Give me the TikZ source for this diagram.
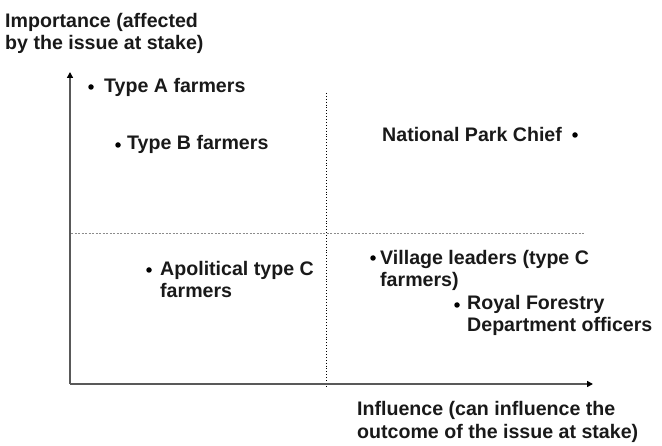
\documentclass[tikz,border=0pt]{standalone}
\usepackage{fontspec}
\setmainfont{Liberation Sans}
\usetikzlibrary{arrows.meta}
\begin{document}
\begin{tikzpicture}[x=1pt,y=1pt,
  lbl/.style={anchor=base west,inner sep=0pt,align=left,font=\bfseries\fontsize{19.6}{22.5}\selectfont,text=black!90},
  dot/.style={circle,fill=black,inner sep=0pt,minimum size=5.5pt},
  axis/.style={draw=black!65,line width=1.6pt,-{Triangle[length=6pt,width=6pt,color=black]}}]
\useasboundingbox (0,0) rectangle (662,445);
\coordinate (O) at (70,61);
\coordinate (ytip) at (70,373);
\coordinate (xtip) at (593,61);
\coordinate (vtop) at (326,352);
\coordinate (vbot) at (326,59);
\coordinate (hl) at (71,212);
\coordinate (hr) at (584,212);
\draw[black,line width=0.9pt,dotted] (vtop) -- (vbot);
\draw[black!45,line width=0.6pt,dash pattern=on 2pt off 1.5pt] (hl) -- (hr);
\draw[axis] (O) -- (ytip);
\draw[axis] (O) -- (xtip);
\node[lbl] (imp) at (5,395) {Importance (affected\\by the issue at stake)};
\node[lbl] (infl) at (357,7) {Influence (can influence the\\outcome of the issue at stake)};
\node[dot] (da) at (91,358) {};
\node[lbl] (ta) at (104,352) {Type A farmers};
\node[dot] (db) at (118,300) {};
\node[lbl] (tb) at (127,295) {Type B farmers};
\node[lbl] (tn) at (382,303) {National Park Chief};
\node[dot] (dn) at (575,310) {};
\node[dot] (dap) at (149,175) {};
\node[lbl] (tap) at (160,147) {Apolitical type C\\farmers};
\node[dot] (dv) at (373,187) {};
\node[lbl] (tv) at (380,158) {Village leaders (type C\\farmers)};
\node[dot] (dr) at (457,140) {};
\node[lbl] (tr) at (467,113) {Royal Forestry\\Department officers};
\end{tikzpicture}
\end{document}
